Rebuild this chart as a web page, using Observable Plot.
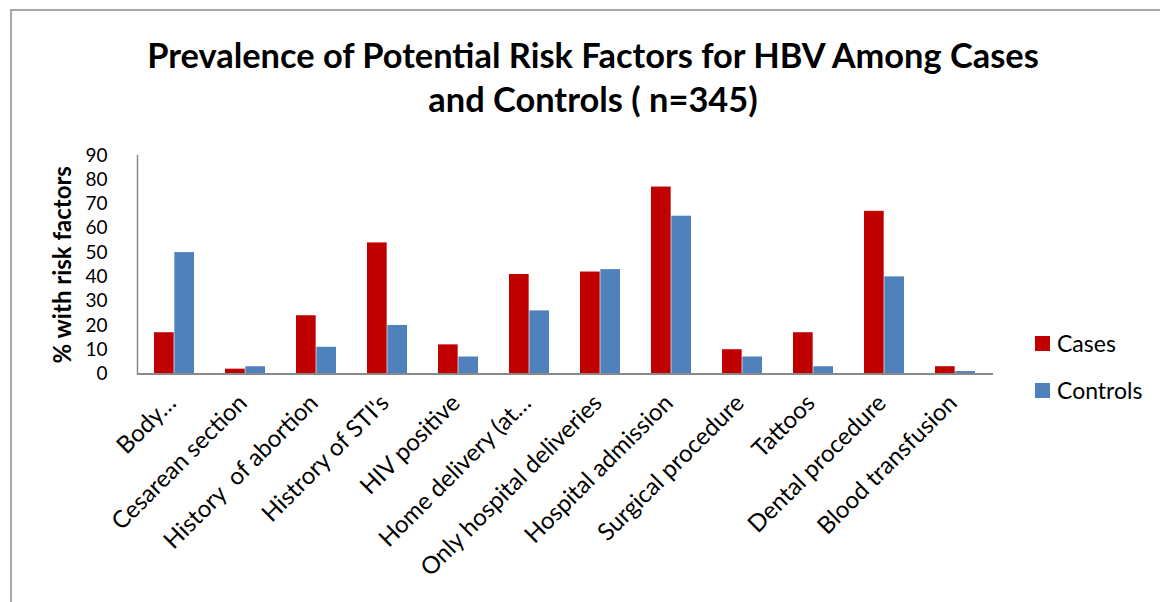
<!DOCTYPE html>
<html><head><meta charset="utf-8">
<script src="https://cdn.jsdelivr.net/npm/d3@7"></script>
<script src="https://cdn.jsdelivr.net/npm/@observablehq/plot@0.6"></script>
<style>
body{margin:0;background:#fff;}
#wrap{position:relative;width:1160px;height:602px;overflow:hidden;font-family:Lato,"Open Sans",sans-serif;color:#000;}
#frame{position:absolute;left:10px;top:9px;width:1170px;height:620px;border:2px solid #a6a6a6;box-sizing:border-box;}
#title{position:absolute;left:0;width:1186px;top:33px;text-align:center;font-weight:bold;font-size:34.4px;line-height:44px;}
#chart{position:absolute;left:0;top:130px;}
#legend{position:absolute;left:1035px;top:331px;font-size:23px;}
.li{display:flex;align-items:center;height:24px;margin-bottom:23px;}
.sw{width:15px;height:15px;margin-right:7px;}
</style></head>
<body><div id="wrap"><div id="frame"></div>
<div id="title">Prevalence of Potential Risk Factors for HBV Among Cases<br>and Controls ( n=345)</div>
<div id="chart"></div><div id="legend"></div></div>
<script>
const categories = ["Body…","Cesarean section","History  of abortion","Histrory of STI's","HIV positive","Home delivery (at…","Only hospital deliveries","Hospital admission","Surgical procedure","Tattoos","Dental procedure","Blood transfusion"];
const cases =    [17, 2, 24, 54, 12, 41, 42, 77, 10, 17, 67, 3];
const controls = [50, 3, 11, 20,  7, 26, 43, 65,  7,  3, 40, 1];
const seriesNames = ["Cases","Controls"];
const seriesColors = ["#C00000","#4F81BD"];
const yTicks = [0,10,20,30,40,50,60,70,80,90];
const yLabel = "% with risk factors";

const casesRows = categories.map((c,i)=>({category:c, series:"Cases", value:cases[i]}));
const controlRows = categories.map((c,i)=>({category:c, series:"Controls", value:controls[i]}));

const W = 1000, ML = 137, MR = 7, gap = 0.43;
const step = (W - ML - MR) / categories.length;
const half = step * (1 - gap) / 2;

const chart = Plot.plot({
  width: W, height: 472,
  marginLeft: ML, marginRight: MR, marginTop: 25, marginBottom: 228.5,
  style: {fontFamily: "Lato, 'Open Sans', sans-serif", fontSize: "19px", color: "#000", background: "transparent", overflow: "visible"},
  x: {domain: categories, paddingInner: gap, paddingOuter: gap / 2, label: null, axis: null},
  y: {domain: [0, 90], ticks: yTicks, label: null, axis: null},
  color: {domain: seriesNames, range: seriesColors},
  marks: [
    Plot.barY(casesRows, {x: "category", y: "value", fill: "series", insetLeft: 0, insetRight: half}),
    Plot.barY(controlRows, {x: "category", y: "value", fill: "series", insetLeft: half, insetRight: 0}),
    Plot.axisX({anchor: "bottom", tickRotate: -45, tickSize: 0, tickPadding: 25, dx: -2.5, label: null, fontSize: 24}),
    Plot.axisY({ticks: yTicks, tickSize: 0, tickPadding: 30, label: null, fontSize: 19}),
    Plot.text([yLabel], {frameAnchor: "left", textAnchor: "middle", rotate: -90, dx: -74, fontWeight: "bold", fontSize: 24}),
    Plot.ruleY([0], {stroke: "#898989", strokeWidth: 2}),
    Plot.frame({anchor: "left", stroke: "#898989", strokeWidth: 1.5})
  ]
});
document.getElementById("chart").appendChild(chart);

const lg = document.getElementById("legend");
seriesNames.forEach((s,i)=>{
  const d = document.createElement("div"); d.className="li";
  d.innerHTML = `<span class="sw" style="background:${seriesColors[i]}"></span><span>${s}</span>`;
  lg.appendChild(d);
});
</script></body></html>
